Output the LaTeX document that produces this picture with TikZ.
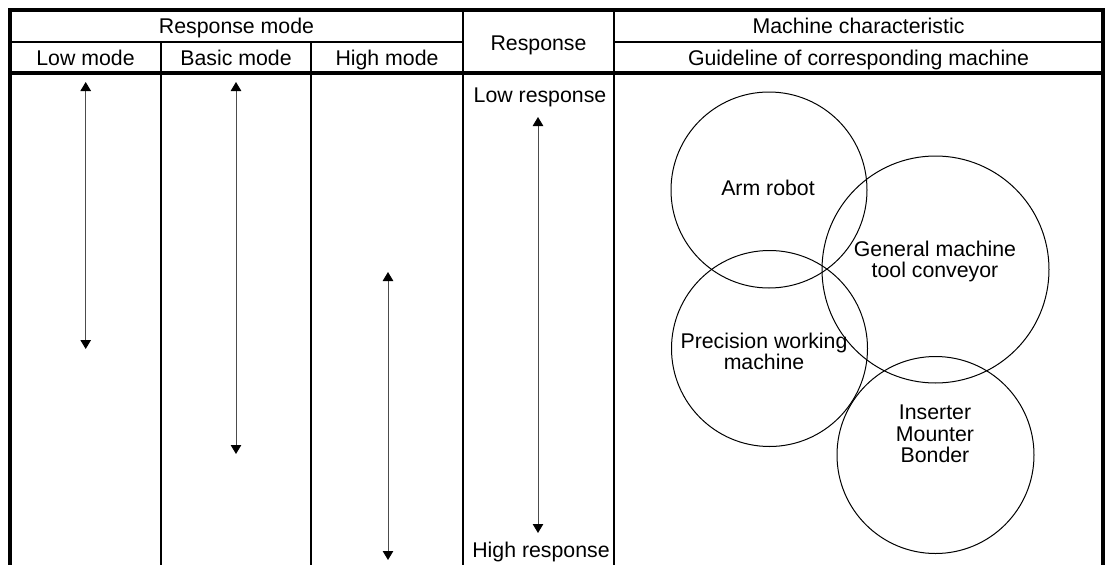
\documentclass[tikz,border=0pt]{standalone}
\usepackage{fontspec}
\setmainfont{Liberation Sans}
\usetikzlibrary{arrows.meta}
\begin{document}
\begin{tikzpicture}[x=1pt,y=-1pt,
  outer/.style={line width=4pt},
  grid/.style={line width=2pt},
  lbl/.style={font=\fontsize{21.3}{21.5}\selectfont, inner sep=0pt, align=center, text height=15.2pt, text depth=0pt},
  rng/.style={line width=1pt, draw=black!70, {Triangle[length=9pt,width=10.5pt,color=black]}-{Triangle[length=9pt,width=10.5pt,color=black]}},
  circ/.style={draw, line width=1pt, circle, inner sep=0pt}
]
\useasboundingbox (0,0) rectangle (1106,565);
% table lines
\draw[grid] (10,42) -- (463,42) (614,42) -- (1103,42);
\draw[grid] (161,42) -- (161,567) (311,42) -- (311,567);
\draw[grid] (463,9.5) -- (463,567) (614,9.5) -- (614,567);
\draw[outer] (10,73) -- (1103,73);
\draw[outer] (10,567) -- (10,9.5) -- (1103,9.5) -- (1103,567);
% header texts
\node[lbl] (rm) at (236.5,25.5) {Response mode};
\node[lbl] (lm) at (85.5,57.5) {Low mode};
\node[lbl] (bm) at (236,57.5) {Basic mode};
\node[lbl] (hm) at (387,57.5) {High mode};
\node[lbl] (rs) at (538.5,42.5) {Response};
\node[lbl] (mc) at (858.5,25.5) {Machine characteristic};
\node[lbl] (gl) at (858.5,57.5) {Guideline of corresponding machine};
% response column
\node[lbl] (lr) at (540,95) {Low response};
\node[lbl] (hr) at (541,549.5) {High response};
% range arrows
\coordinate (lowT) at (85.7,82);
\coordinate (lowB) at (85.7,349);
\coordinate (basT) at (236,82);
\coordinate (basB) at (236,454);
\coordinate (higT) at (388,272);
\coordinate (higB) at (388,560);
\coordinate (resT) at (538,117);
\coordinate (resB) at (538,533);
\draw[rng] (lowT) -- (lowB);
\draw[rng] (basT) -- (basB);
\draw[rng] (higT) -- (higB);
\draw[rng] (resT) -- (resB);
% circles
\node[circ, minimum size=196pt] (arm) at (769,190) {};
\node[circ, minimum size=227pt] (gen) at (935.5,269.5) {};
\node[circ, minimum size=196pt] (pre) at (769.5,348.5) {};
\node[circ, minimum size=197pt] (ins) at (935.5,455) {};
\node[lbl] (armt) at (768,188) {Arm robot};
\node[lbl] (gent) at (935,270) {General machine\\tool conveyor};
\node[lbl] (pret) at (764,362) {Precision working\\machine};
\node[lbl] (inst) at (935,455) {Inserter\\Mounter\\Bonder};
\end{tikzpicture}
\end{document}
